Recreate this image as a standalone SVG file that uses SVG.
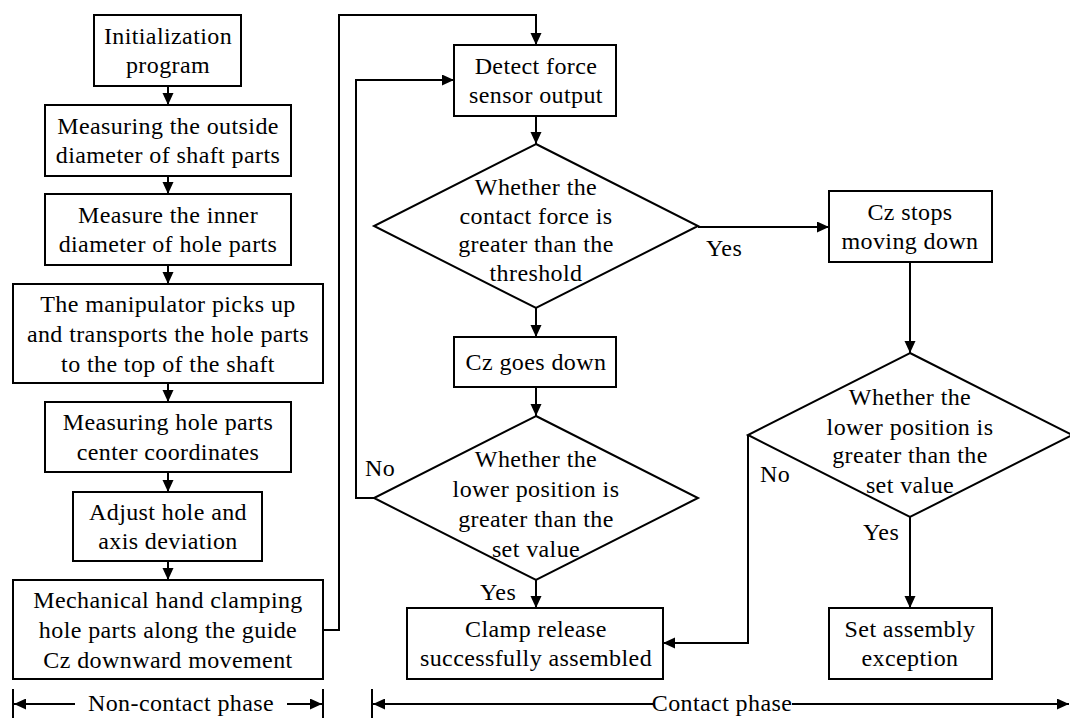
<svg xmlns="http://www.w3.org/2000/svg" width="1070" height="718" viewBox="0 0 1070 718">
<style>
  .box { fill: #fff; stroke: #000; stroke-width: 2; }
  .t { font-family: "Liberation Serif", "Times New Roman", serif; font-size: 24px; letter-spacing: 0.4px; fill: #000; text-anchor: middle; }
  .l { font-family: "Liberation Serif", "Times New Roman", serif; font-size: 24px; letter-spacing: 0.4px; fill: #000; }
  .c { fill: none; stroke: #000; stroke-width: 2; }
  .ca { fill: none; stroke: #000; stroke-width: 2; marker-end: url(#ah); }
</style>
<defs>
  <marker id="ah" markerUnits="userSpaceOnUse" markerWidth="13" markerHeight="12" refX="12" refY="5.5" orient="auto">
    <path d="M0,0 L12,5.5 L0,11 z" fill="#000"/>
  </marker>
  <marker id="ahs" markerUnits="userSpaceOnUse" markerWidth="13" markerHeight="12" refX="0" refY="5.5" orient="auto">
    <path d="M12,0 L0,5.5 L12,11 z" fill="#000"/>
  </marker>
</defs>
<rect width="1070" height="718" fill="#fff"/>

<g id="connectors">
  <line class="ca" x1="168" y1="86" x2="168" y2="105"/>
  <line class="ca" x1="168" y1="176" x2="168" y2="194"/>
  <line class="ca" x1="168" y1="265" x2="168" y2="284"/>
  <line class="ca" x1="168" y1="383" x2="168" y2="402"/>
  <line class="ca" x1="168" y1="472" x2="168" y2="492"/>
  <line class="ca" x1="168" y1="561" x2="168" y2="580"/>
  <polyline class="ca" points="323,630 339,630 339,15 536,15 536,45"/>
  <line class="ca" x1="536" y1="116" x2="536" y2="144"/>
  <line class="ca" x1="536" y1="308" x2="536" y2="337"/>
  <line class="ca" x1="536" y1="387" x2="536" y2="416"/>
  <line class="ca" x1="536" y1="580" x2="536" y2="608"/>
  <polyline class="ca" points="374,498 356,498 356,80 454,80"/>
  <line class="ca" x1="698" y1="227" x2="829" y2="227"/>
  <line class="ca" x1="910" y1="262" x2="910" y2="353"/>
  <line class="ca" x1="910" y1="517" x2="910" y2="608"/>
  <polyline class="ca" points="748,435 748,643 663,643"/>
  <text class="l" x="706" y="256">Yes</text>
  <text class="l" x="365" y="476">No</text>
  <text class="l" x="480" y="600">Yes</text>
  <text class="l" x="760" y="482">No</text>
  <text class="l" x="863" y="540">Yes</text>
</g>

<g id="n1"><rect class="box" x="94" y="15" width="147" height="71"/>
  <text class="t" x="168" y="43.5">Initialization</text><text class="t" x="168" y="72.5">program</text></g>
<g id="n2"><rect class="box" x="45" y="105" width="246" height="71"/>
  <text class="t" x="168" y="133.5">Measuring the outside</text><text class="t" x="168" y="163">diameter of shaft parts</text></g>
<g id="n3"><rect class="box" x="45" y="194" width="246" height="71"/>
  <text class="t" x="168" y="222.5">Measure the inner</text><text class="t" x="168" y="252">diameter of hole parts</text></g>
<g id="n4"><rect class="box" x="13" y="284" width="310" height="99"/>
  <text class="t" x="168" y="312">The manipulator picks up</text><text class="t" x="168" y="342">and transports the hole parts</text><text class="t" x="168" y="372">to the top of the shaft</text></g>
<g id="n5"><rect class="box" x="45" y="402" width="246" height="70"/>
  <text class="t" x="168" y="430">Measuring hole parts</text><text class="t" x="168" y="459.5">center coordinates</text></g>
<g id="n6"><rect class="box" x="73" y="492" width="189" height="69"/>
  <text class="t" x="168" y="519.5">Adjust hole and</text><text class="t" x="168" y="549">axis deviation</text></g>
<g id="n7"><rect class="box" x="13" y="580" width="310" height="99"/>
  <text class="t" x="168" y="608">Mechanical hand clamping</text><text class="t" x="168" y="638">hole parts along the guide</text><text class="t" x="168" y="668">Cz downward movement</text></g>

<g id="n8"><rect class="box" x="454" y="45" width="162" height="71"/>
  <text class="t" x="536" y="73.5">Detect force</text><text class="t" x="536" y="102.5">sensor output</text></g>
<g id="n9"><polygon class="box" points="536,144 698,226 536,308 374,226"/>
  <text class="t" x="536" y="195">Whether the</text><text class="t" x="536" y="223.5">contact force is</text><text class="t" x="536" y="252">greater than the</text><text class="t" x="536" y="280.5">threshold</text></g>
<g id="n10"><rect class="box" x="454" y="337" width="162" height="50"/>
  <text class="t" x="536" y="370">Cz goes down</text></g>
<g id="n11"><polygon class="box" points="536,416 698,498 536,580 374,498"/>
  <text class="t" x="536" y="467">Whether the</text><text class="t" x="536" y="497">lower position is</text><text class="t" x="536" y="527">greater than the</text><text class="t" x="536" y="557">set value</text></g>
<g id="n12"><rect class="box" x="407" y="608" width="256" height="71"/>
  <text class="t" x="536" y="636.5">Clamp release</text><text class="t" x="536" y="666">successfully assembled</text></g>

<g id="n13"><rect class="box" x="829" y="191" width="163" height="71"/>
  <text class="t" x="910" y="219.5">Cz stops</text><text class="t" x="910" y="249">moving down</text></g>
<g id="n14"><polygon class="box" points="910,353 1072,435 910,517 748,435"/>
  <text class="t" x="910" y="405">Whether the</text><text class="t" x="910" y="435">lower position is</text><text class="t" x="910" y="463">greater than the</text><text class="t" x="910" y="493">set value</text></g>
<g id="n15"><rect class="box" x="829" y="608" width="163" height="71"/>
  <text class="t" x="910" y="636.5">Set assembly</text><text class="t" x="910" y="666">exception</text></g>

<g id="phases">
  <line class="c" x1="13" y1="689" x2="13" y2="718"/>
  <line class="c" x1="323" y1="689" x2="323" y2="718"/>
  <line class="c" x1="14" y1="704" x2="75" y2="704" marker-start="url(#ahs)"/>
  <line class="ca" x1="287" y1="704" x2="322" y2="704"/>
  <text class="t" x="181" y="711">Non-contact phase</text>
  <line class="c" x1="372" y1="689" x2="372" y2="718"/>
  <line class="c" x1="373" y1="704" x2="653" y2="704" marker-start="url(#ahs)"/>
  <line class="ca" x1="792" y1="704" x2="1069" y2="704"/>
  <text class="t" x="722" y="711">Contact phase</text>
</g>
</svg>
